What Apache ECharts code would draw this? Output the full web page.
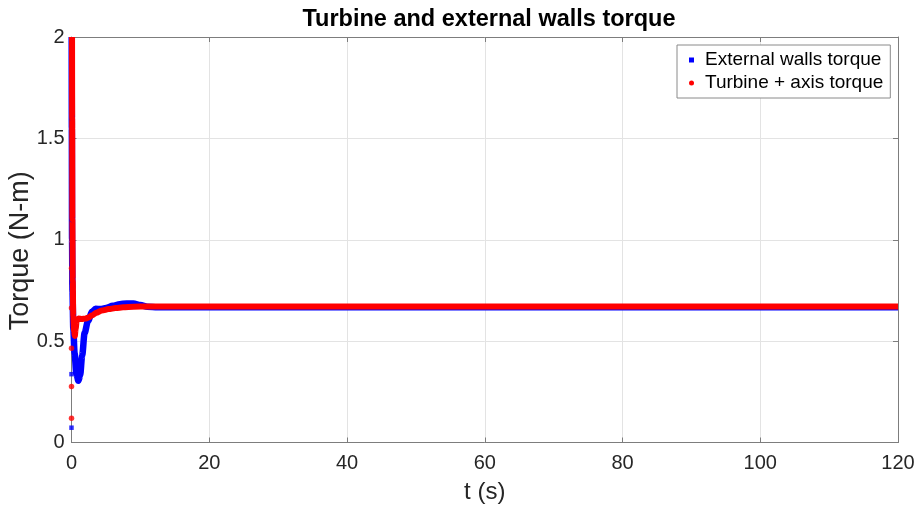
<!DOCTYPE html>
<html>
<head>
<meta charset="utf-8">
<script src="https://cdn.jsdelivr.net/npm/echarts@6/dist/echarts.min.js"></script>
<style>
  html, body { margin: 0; padding: 0; background: #fff; }
  #chart { width: 918px; height: 511px; }
</style>
</head>
<body>
<div id="chart"></div>
<script>
// Torque histories [t (s), torque (N-m)]
const wallsTorque = [
  [0.03, 2.0], [0.05, 1.55], [0.08, 1.0], [0.14, 0.75], [0.26, 0.56], [0.45, 0.44],
  [0.7, 0.34], [1.0, 0.305], [1.25, 0.33], [1.55, 0.43], [1.9, 0.54], [2.4, 0.6],
  [3.0, 0.645], [3.5, 0.66], [4.2, 0.658], [5.0, 0.663], [6.0, 0.674], [7.0, 0.682],
  [8.0, 0.686], [9.0, 0.685], [10.0, 0.678], [11.0, 0.670], [12.5, 0.667],
  [15, 0.667], [20, 0.667], [120, 0.667]
];
const turbineTorque = [
  [0.08, 2.0], [0.1, 1.6], [0.13, 1.1], [0.18, 0.8], [0.26, 0.62], [0.36, 0.55],
  [0.48, 0.525], [0.6, 0.56], [0.75, 0.6], [1.0, 0.611], [1.5, 0.609], [2.0, 0.611],
  [2.5, 0.617], [3.0, 0.628], [3.6, 0.64], [4.4, 0.651], [5.4, 0.658], [6.4, 0.663],
  [7.5, 0.667], [9.0, 0.67], [11.0, 0.671], [120, 0.671]
];
// Isolated samples at the first time step
const wallsStart = [[0, 0.073], [0, 0.337], [0, 0.79], [0, 1.55]];
const turbineStart = [[0, 0.12], [0, 0.276], [0, 0.465], [0, 0.663], [0, 0.86]];

const xTicks = { min: 0, max: 120, interval: 20 };
const yTicks = { min: 0, max: 2, interval: 0.5 };

const FONT = '"Liberation Sans", Arial, Helvetica, sans-serif';
const INK = '#262626';
const AXIS = '#7d7d7d';
const GRID = '#e3e3e3';

const chart = echarts.init(document.getElementById('chart'), null, { renderer: 'canvas' });

function valueAxis(base, extra) {
  return Object.assign({
    type: 'value',
    min: base.min, max: base.max, interval: base.interval,
    axisLine: { show: true, onZero: false, lineStyle: { color: AXIS, width: 1 } },
    axisTick: { show: true, inside: true, length: 5, lineStyle: { color: AXIS } },
    splitLine: { show: false },
    axisLabel: { show: false }
  }, extra);
}

chart.setOption({
  animation: false,
  backgroundColor: '#ffffff',
  textStyle: { fontFamily: FONT },
  title: {
    text: 'Turbine and external walls torque',
    left: 484, top: 3, textAlign: 'center',
    textStyle: { fontFamily: FONT, fontSize: 23.5, fontWeight: 'bold', color: '#000' }
  },
  grid: {
    left: 71.5, right: 20, top: 37, bottom: 68.5,
    containLabel: false, outerBoundsMode: 'none'
  },
  legend: {
    orient: 'vertical',
    left: 677, top: 45,
    padding: [5, 7, 5, 12],
    itemGap: 3,
    itemWidth: 5, itemHeight: 5,
    backgroundColor: '#fff',
    borderColor: '#8a8a8a', borderWidth: 1,
    textStyle: { fontFamily: FONT, fontSize: 19, color: '#000', lineHeight: 20, padding: [0, 0, 0, 6] },
    data: [
      { name: 'External walls torque', icon: 'rect' },
      { name: 'Turbine + axis torque', icon: 'circle' }
    ]
  },
  xAxis: [
    valueAxis(xTicks, {
      position: 'bottom',
      name: 't (s)', nameLocation: 'middle', nameGap: 38, nameMoveOverlap: false,
      nameTextStyle: { fontFamily: FONT, fontSize: 24, color: INK },
      axisLabel: { show: true, margin: 11, fontFamily: FONT, fontSize: 20, color: INK },
      splitLine: { show: true, lineStyle: { color: GRID, width: 1 } }
    }),
    valueAxis(xTicks, { position: 'top' })
  ],
  yAxis: [
    valueAxis(yTicks, {
      position: 'left',
      name: 'Torque (N-m)', nameLocation: 'middle', nameGap: 37, nameMoveOverlap: false,
      nameTextStyle: { fontFamily: FONT, fontSize: 27, color: INK, padding: [0, 22, 0, 0] },
      axisLabel: { show: true, margin: 7, fontFamily: FONT, fontSize: 20, color: INK },
      splitLine: { show: true, lineStyle: { color: GRID, width: 1 } }
    }),
    valueAxis(yTicks, { position: 'right' })
  ],
  series: [
    {
      name: 'External walls torque', type: 'line', data: wallsTorque,
      showSymbol: false, clip: false, smooth: 0.3, smoothMonotone: 'x', z: 2,
      itemStyle: { color: '#0000ff' },
      lineStyle: { color: '#0000ff', width: 6.5 }
    },
    {
      name: 'External walls torque', type: 'scatter', data: wallsStart,
      symbol: 'rect', symbolSize: 4.5, clip: false, z: 2,
      itemStyle: { color: '#0000ff' }
    },
    {
      name: 'Turbine + axis torque', type: 'line', data: turbineTorque,
      showSymbol: false, clip: false, smooth: 0.3, smoothMonotone: 'x', z: 3,
      itemStyle: { color: '#ff0000' },
      lineStyle: { color: '#ff0000', width: 6 }
    },
    {
      name: 'Turbine + axis torque', type: 'scatter', data: turbineStart,
      symbol: 'circle', symbolSize: 5.5, clip: false, z: 3,
      itemStyle: { color: '#ff0000' }
    }
  ]
});
</script>
</body>
</html>
